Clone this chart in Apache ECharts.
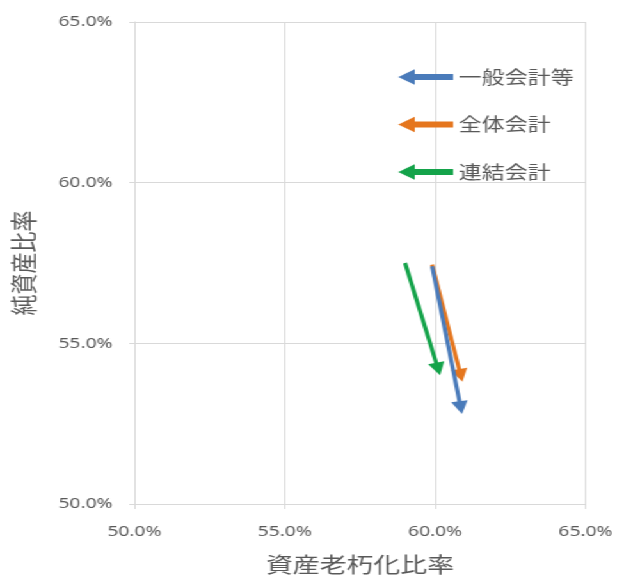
<!DOCTYPE html>
<html>
<head>
<meta charset="utf-8">
<script src="https://cdn.jsdelivr.net/npm/echarts@6/dist/echarts.min.js"></script>
<style>
  html, body { margin: 0; padding: 0; background: #fff; overflow: hidden; }
  #wrap { width: 619px; height: 580px; overflow: hidden; }
  /* The chart is laid out narrower and widened horizontally, giving the wide lettering of the original figure */
  #chart { height: 580px; transform-origin: 0 0; }
</style>
</head>
<body>
<div id="wrap"><div id="chart"></div></div>
<script>
// Movement of each accounting unit: [資産老朽化比率, 純資産比率] in %, from → to
const seriesNames = ['一般会計等', '全体会計', '連結会計'];
const startPoints = [[59.9, 57.4], [59.9, 57.45], [59.0, 57.5]];
const endPoints   = [[60.85, 53.0], [60.85, 54.0], [60.1, 54.2]];
const seriesColors = ['#4A7BBA', '#E5761E', '#14A34A'];
const axisTicks = [50, 55, 60, 65];

const stretchX = 1.28;
const pageW = 619, pageH = 580;
const sx = v => v / stretchX;   // page x distance → layout x distance

const el = document.getElementById('chart');
el.style.width = (pageW / stretchX) + 'px';
el.style.transform = 'scaleX(' + stretchX + ')';

const textColor = '#595959';
const gridColor = '#D9D9D9';
const fontFamily = '"Noto Sans CJK JP", "Noto Sans", sans-serif';
const numFont = '"Noto Sans", "DejaVu Sans", sans-serif';

// Left-pointing arrow used as the legend icon
const arrowIcon = 'path://M0,6 L10,0 L10,4 L40,4 L40,8 L10,8 L10,12 Z';

const chart = echarts.init(el, null, { renderer: 'canvas' });

const pct = v => v.toFixed(1) + '%';

const option = {
  backgroundColor: '#fff',
  animation: false,
  grid: { left: sx(133), right: sx(34), top: 22, bottom: 75, containLabel: false },
  legend: {
    orient: 'vertical',
    left: sx(393),
    top: 62,
    itemWidth: sx(52),
    itemHeight: 12,
    itemGap: 27.5,
    icon: arrowIcon,
    textStyle: { color: textColor, fontSize: 18, fontFamily: fontFamily, lineHeight: 20 },
    data: seriesNames
  },
  xAxis: {
    type: 'value',
    min: axisTicks[0],
    max: axisTicks[axisTicks.length - 1],
    interval: 5,
    name: '資産老朽化比率',
    nameLocation: 'middle',
    nameGap: 50,
    nameTextStyle: { color: textColor, fontSize: 21, fontFamily: fontFamily },
    axisLine: { show: true, lineStyle: { color: gridColor, width: 1 } },
    axisTick: { show: true, length: 5, lineStyle: { color: gridColor } },
    axisLabel: { color: textColor, fontSize: 15, fontFamily: numFont, margin: 20, formatter: pct },
    splitLine: { show: true, lineStyle: { color: gridColor, width: 1 } }
  },
  yAxis: {
    type: 'value',
    min: axisTicks[0],
    max: axisTicks[axisTicks.length - 1],
    interval: 5,
    name: '純資産比率',
    nameLocation: 'middle',
    nameRotate: 90,
    nameGap: 76,
    nameTextStyle: { color: textColor, fontSize: 21, fontFamily: fontFamily },
    axisLine: { show: true, lineStyle: { color: gridColor, width: 1 } },
    axisTick: { show: true, length: 4, lineStyle: { color: gridColor } },
    axisLabel: { color: textColor, fontSize: 15, fontFamily: numFont, margin: 17, formatter: pct },
    splitLine: { show: true, lineStyle: { color: gridColor, width: 1 } }
  },
  series: seriesNames.map((name, i) => ({
    name: name,
    type: 'lines',
    coordinateSystem: 'cartesian2d',
    symbol: ['none', 'triangle'],
    symbolSize: [10, 13],
    itemStyle: { color: seriesColors[i] },
    lineStyle: { color: seriesColors[i], width: 3.2, opacity: 1, curveness: 0 },
    z: 10 - i,
    data: [{ coords: [startPoints[i], endPoints[i]] }]
  }))
};

chart.setOption(option);
</script>
</body>
</html>
